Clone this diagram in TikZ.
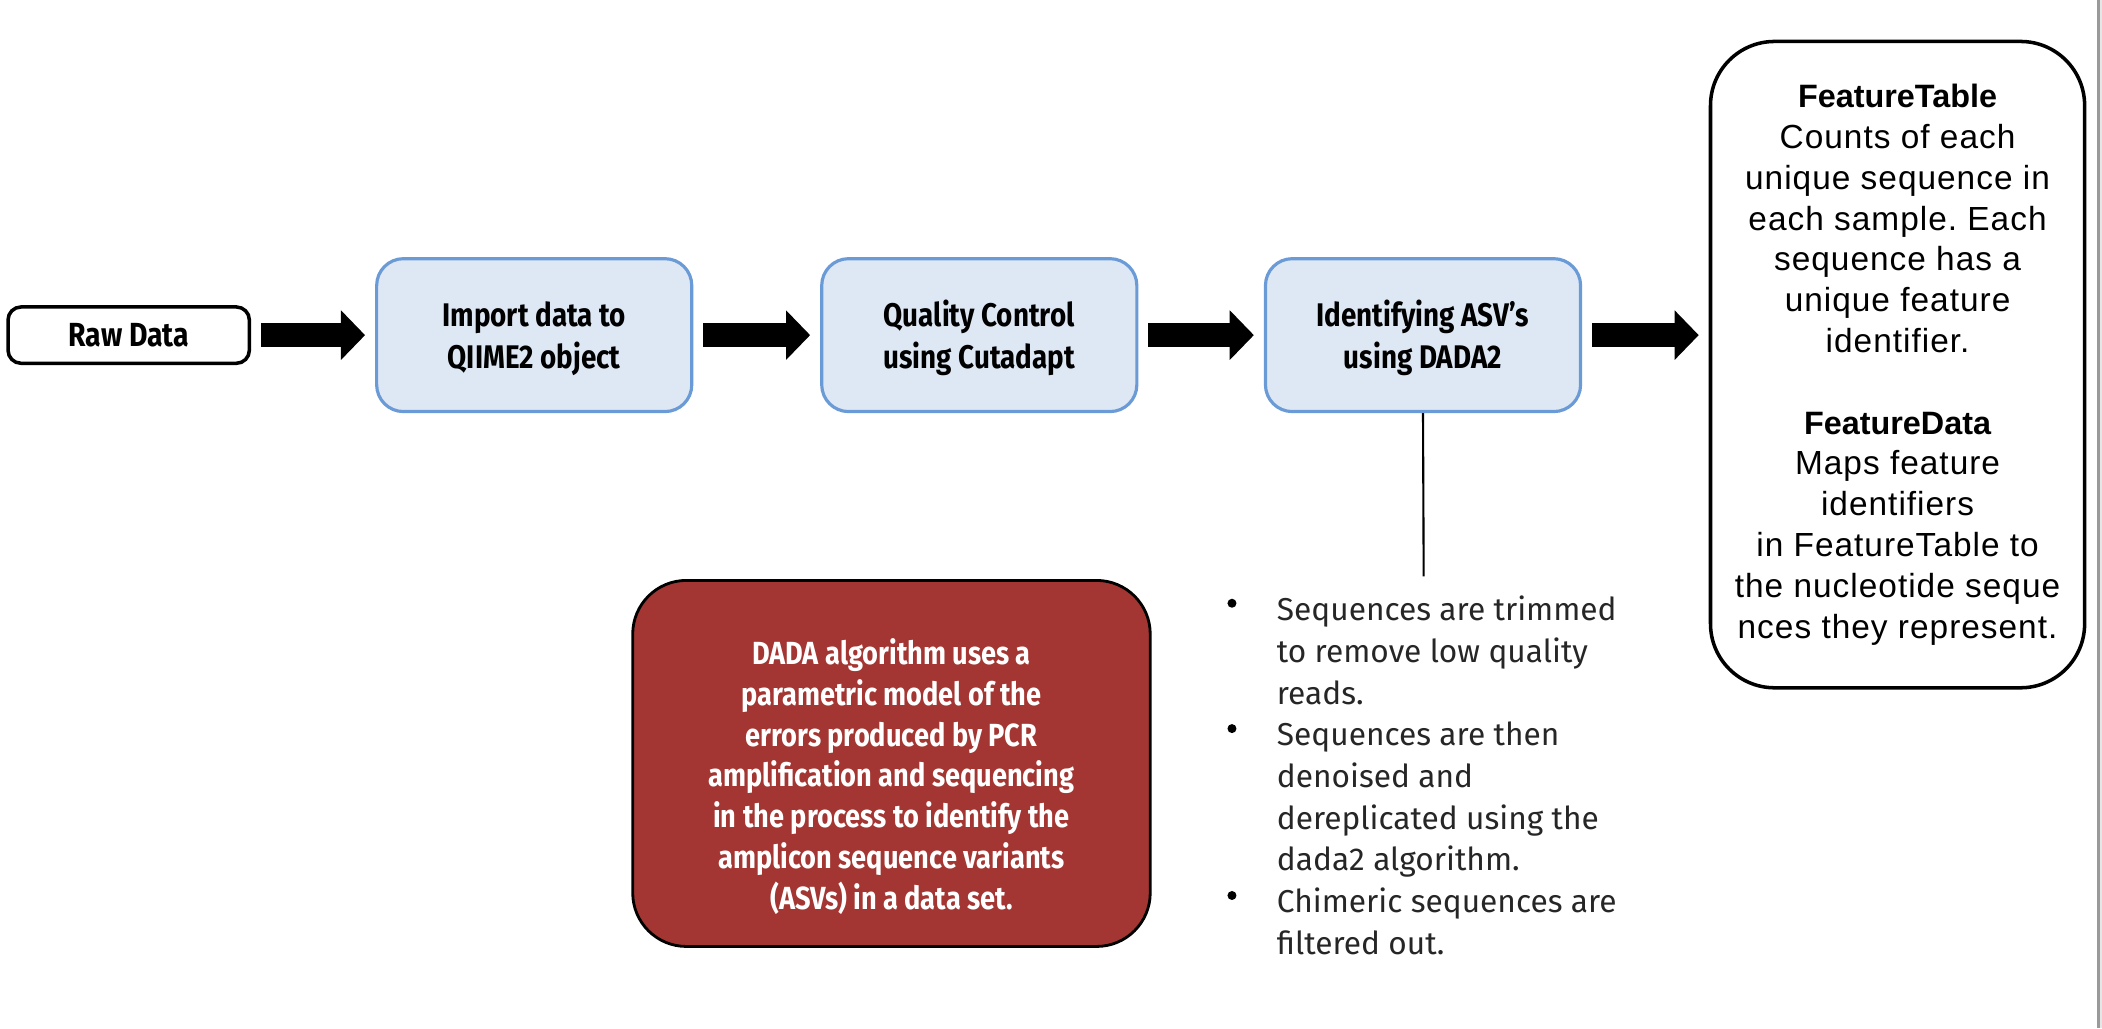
\documentclass[tikz,border=0pt]{standalone}
\usepackage{fontspec}
\setmainfont{Fira Sans}
\newfontfamily\flowfont[FakeStretch=0.85]{Fira Sans}
\newfontfamily\featfont[LetterSpace=3]{Liberation Sans}
\newfontfamily\feathead{Liberation Sans}
\usetikzlibrary{arrows.meta}
\definecolor{boxfill}{HTML}{DEE8F5}
\definecolor{boxline}{HTML}{6B9BD7}
\definecolor{dadared}{HTML}{A33632}
\definecolor{bullettext}{HTML}{262626}
\definecolor{edgegray}{HTML}{9A9A9A}
\definecolor{edgelight}{HTML}{E6E6E6}
\frenchspacing
\begin{document}
\begin{tikzpicture}[x=0.0134cm,y=-0.0134cm,
  flowbox/.style={draw=boxline, fill=boxfill, line width=0.9pt, rounded corners=0.268cm,
    minimum width=3.149cm, minimum height=1.528cm, inner sep=0pt, align=center,
    font=\flowfont\bfseries\fontsize{9.3}{11.8}\selectfont},
  rawbox/.style={draw=black, line width=1pt, rounded corners=0.13cm,
    minimum width=2.412cm, minimum height=0.563cm, inner sep=0pt,
    font=\flowfont\bfseries\fontsize{9.5}{11.8}\selectfont},
  featbox/.style={draw=black, line width=1pt, rounded corners=0.64cm,
    minimum width=3.739cm, minimum height=6.459cm, inner sep=0pt, align=center,
    font=\featfont\fontsize{9.5}{11.6}\selectfont},
  dadabox/.style={draw=black, fill=dadared, line width=0.8pt, rounded corners=0.536cm,
    minimum width=5.172cm, minimum height=3.658cm, inner sep=0pt},
  dadatext/.style={inner sep=0pt, align=center, text=white,
    font=\flowfont\bfseries\fontsize{9.1}{11.6}\selectfont},
  fatarrow/.style={line width=0.2412cm, -{Triangle[length=0.2412cm, width=0.4824cm]},
    shorten <=0.1cm, shorten >=0.1cm},
  bullettxt/.style={inner sep=0pt, align=left, text=bullettext,
    font=\fontsize{9}{11.86}\selectfont},
  bulletdot/.style={circle, fill=black, inner sep=0pt, minimum size=0.09cm}
]
\useasboundingbox (0,0) rectangle (1568,767);
\fill[white] (0,0) rectangle (1568,767);
\fill[edgegray] (1564,0) rectangle (1566.3,767);
\fill[edgelight] (1566.3,0) rectangle (1568,767);

\node[rawbox] (raw) at (96,250) {Raw Data};
\node[flowbox] (imp) at (398.5,250) {\rule{0pt}{9pt}Import data to\\QIIME2 object};
\node[flowbox] (qc) at (730.5,250) {\rule{0pt}{9pt}Quality Control\\using Cutadapt};
\node[flowbox] (asv) at (1061.5,250) {\rule{0pt}{9pt}Identifying ASV’s\\using DADA2};
\node[featbox] (feat) at (1415.5,272) {{\feathead\bfseries\fontsize{9.2}{11.6}\selectfont FeatureTable}\\Counts of each\\unique sequence in\\each sample. Each\\sequence has a\\unique feature\\identifier.\\[11.6pt]{\feathead\bfseries\fontsize{9.2}{11.6}\selectfont FeatureData}\\Maps feature\\identifiers\\in FeatureTable to\\the nucleotide seque\\nces they represent.};
\node[dadabox] (dada) at (665,569.5) {};
\node[dadatext] (dadatxt) at ([yshift=-0.13cm]dada.center) {DADA algorithm uses a\\parametric model of the\\errors produced by PCR\\amplification and sequencing\\in the process to identify the\\amplicon sequence variants\\(ASVs) in a data set.};

\draw[fatarrow] (raw.east) -- (imp.west);
\draw[fatarrow] (imp.east) -- (qc.west);
\draw[fatarrow] (qc.east) -- (asv.west);
\draw[fatarrow] (asv.east) -- (feat.west |- asv.east);

\coordinate (lineend) at (1062,430);
\draw[line width=0.6pt] (asv.south) -- (lineend);

\node[bullettxt, anchor=north west] (btext) at (952,444) {Sequences are trimmed\\to remove low quality\\reads.\\Sequences are then\\denoised and\\dereplicated using the\\dada2 algorithm.\\Chimeric sequences are\\filtered out.};
\node[bulletdot] (b1) at (919,450) {};
\node[bulletdot] (b2) at (919,543.5) {};
\node[bulletdot] (b3) at (919,668) {};
\end{tikzpicture}
\end{document}
